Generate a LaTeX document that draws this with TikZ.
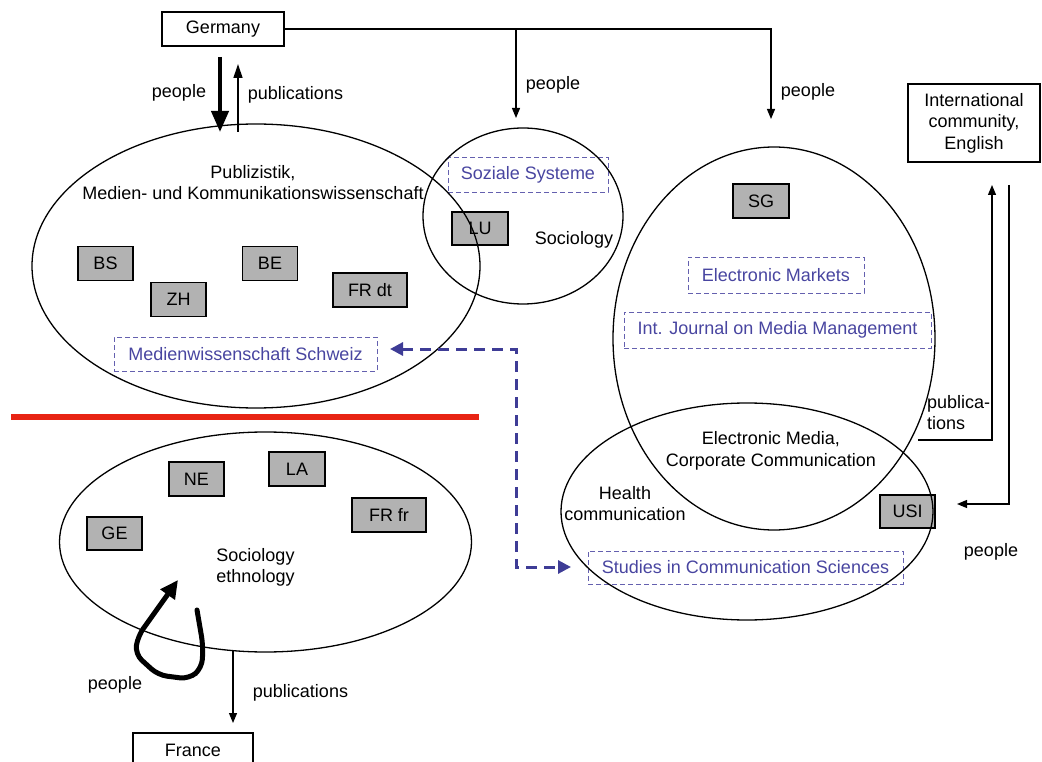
\documentclass[tikz,border=0pt]{standalone}
\usepackage{fontspec}
\setmainfont{Liberation Sans}
\usetikzlibrary{shapes.geometric,arrows.meta}
\definecolor{unigray}{RGB}{178,178,178}
\definecolor{jblue}{RGB}{100,96,175}
\definecolor{jtext}{RGB}{72,69,160}
\definecolor{dblue}{RGB}{62,60,150}
\definecolor{redline}{RGB}{232,36,20}
\begin{document}
\begin{tikzpicture}[x=1pt,y=-1pt,
  every node/.append style={font=\fontsize{18}{21.5}\selectfont},
  plainbox/.style={draw,line width=1.2pt,inner sep=0pt},
  unibox/.style={draw,line width=1.2pt,fill=unigray,inner sep=0pt,minimum width=55pt,minimum height=34pt},
  journal/.style={draw=jblue,line width=0.9pt,dash pattern=on 5pt off 3pt,text=jtext,inner sep=0pt,minimum height=34pt},
  field/.style={ellipse,draw,line width=1.3pt,inner sep=0pt},
  conn/.style={line width=1.2pt,-{Triangle[length=10pt,width=8pt]}},
  dconn/.style={draw=dblue,line width=3pt,dash pattern=on 11pt off 7pt,{Triangle[length=13pt,width=13pt,fill=dblue]}-{Triangle[length=13pt,width=13pt,fill=dblue]}},
  lbl/.style={inner sep=0pt}]
\useasboundingbox (0,0) rectangle (1042,762);

% outer boxes
\node[plainbox,minimum width=122pt,minimum height=34pt] (germany) at (223,29) {Germany};
\node[plainbox,minimum width=132pt,minimum height=78pt,align=center] (intl) at (974,123) {International\\community,\\English};
\node[plainbox,minimum width=120pt,minimum height=34pt] (france) at (193,750) {France};

% university boxes
\node[unibox] (BS) at (105.5,263.5) {BS};
\node[unibox] (ZH) at (178.5,299.5) {ZH};
\node[unibox] (BE) at (270,263.5) {BE};
\node[unibox,minimum width=74pt] (FRdt) at (370,290) {FR dt};
\node[unibox,minimum width=56pt,minimum height=33pt] (LU) at (480,228.5) {LU};
\node[unibox,minimum width=56pt] (SG) at (761,201) {SG};
\node[unibox,minimum height=33pt] (USI) at (907.5,511.5) {USI};
\node[unibox] (NE) at (196.5,479) {NE};
\node[unibox,minimum width=56pt] (LA) at (297,469) {LA};
\node[unibox,minimum width=74pt] (FRfr) at (389,515) {FR fr};
\node[unibox,minimum height=33pt] (GE) at (114.5,533.5) {GE};

% journals
\node[journal,minimum width=263pt] (mws) at (245.5,354) {Medienwissenschaft Schweiz};
\node[journal,minimum width=160pt,minimum height=35pt] (soz) at (528,174.5) {Soziale Systeme};
\node[journal,minimum width=176pt,minimum height=36pt] (em) at (776,275) {Electronic Markets};
\node[journal,minimum width=307pt,minimum height=36pt] (ijmm) at (777.5,330) {Int. Journal on Media Management};
\node[journal,minimum width=315pt,minimum height=33pt] (scs) at (745.5,567.5) {Studies in Communication Sciences};

% fields (ellipses)
\node[field,minimum width=448pt,minimum height=284pt] (pmk) at (256,266) {};
\node[field,minimum width=200pt,minimum height=176pt] (soc) at (523,216) {};
\node[field,minimum width=322pt,minimum height=383pt] (sgf) at (774,338.5) {};
\node[field,minimum width=372pt,minimum height=217pt] (usif) at (747,511.5) {};
\node[field,minimum width=412pt,minimum height=220pt] (rom) at (265.5,542) {};

% field labels
\node[lbl,align=center] (pmklbl) at (253,182.5) {Publizistik,\\Medien- und Kommunikationswissenschaft};
\node[lbl] (soclbl) at (574,240) {Sociology};
\node[lbl,align=center] (emlbl) at (771,451) {Electronic Media,\\Corporate Communication};
\node[lbl,align=center] (hlbl) at (625,503.5) {Health\\communication};
\node[lbl,align=left] (romlbl) at (255.5,567.5) {Sociology\\ethnology};

% red separator
\coordinate (r1) at (11,417);
\coordinate (r2) at (479,417);
\draw[draw=redline,line width=5.5pt] (r1) -- (r2);

% Germany connectors
\coordinate (br1) at (516,29);
\coordinate (socIn) at (516,118);
\coordinate (sgIn) at (771,119);
\draw[conn] (germany.east) -| (sgIn);
\draw[conn] (br1) -- (socIn);
\node[lbl] (pp1) at (553,85) {people};
\node[lbl] (pp2) at (808,92) {people};

\coordinate (gpS) at (220,57);
\coordinate (gpE) at (220,132);
\draw[line width=4pt,-{Triangle[length=21pt,width=17pt]}] (gpS) -- (gpE);
\coordinate (gbS) at (238,132);
\coordinate (gbE) at (238,64);
\draw[line width=1.3pt,-{Triangle[length=14pt,width=9pt]}] (gbS) -- (gbE);
\node[lbl] (gpl) at (179,93) {people};
\node[lbl] (gbl) at (295.5,95) {publications};

% international connectors
\coordinate (ipS) at (918,440);
\coordinate (ipE) at (992,185);
\draw[conn] (ipS) -| (ipE);
\coordinate (iqS) at (1009,185);
\coordinate (iqE) at (957,504);
\draw[conn] (iqS) |- (iqE);
\node[lbl,align=left,anchor=west] (ipl) at (927,412.5) {publica-\\tions};
\node[lbl] (iql) at (991,552) {people};

% France connectors
\coordinate (fpS) at (233,651);
\coordinate (fpE) at (233,723);
\draw[conn] (fpS) -- (fpE);
\node[lbl] (fpl) at (300.5,693) {publications};
\draw[line width=5pt,line join=round,line cap=round,rounded corners=9pt,-{Triangle[length=18pt,width=17pt]}]
  (197,610) -- (203,645) -- (202,668) -- (189,679) -- (158,675) -- (135,654) -- (138,636) -- (178,580);
\node[lbl] (lpl) at (115,685) {people};

% journal exchange (dashed)
\coordinate (dA) at (390,349);
\coordinate (dC) at (516,349);
\coordinate (dB) at (571,567);
\draw[dconn] (dA) -- (dC) |- (dB);
\end{tikzpicture}
\end{document}
